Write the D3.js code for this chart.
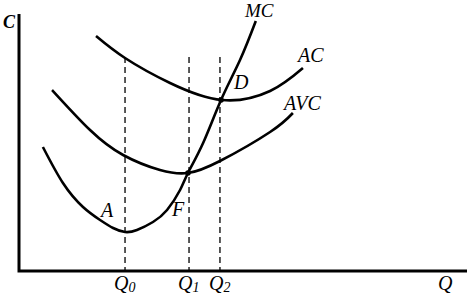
<!DOCTYPE html>
<html>
<head>
<meta charset="utf-8">
<script src="https://cdn.jsdelivr.net/npm/d3@7"></script>
<style>
  html, body { margin: 0; padding: 0; background: #fff; }
  svg { display: block; }
  text { font-family: "Liberation Serif", "DejaVu Serif", serif; font-style: italic; fill: #000; }
</style>
</head>
<body>
<div id="chart"></div>
<script>
// Curves as [Q, C] pairs
const mcPoints = [[1.12, 12.4], [2.06, 8.8], [3.0, 6.4], [3.8, 5.1], [4.41, 4.3], [4.97, 3.9],
  [5.53, 4.1], [6.28, 4.9], [6.94, 6.1], [7.55, 8.1], [7.92, 9.8], [8.63, 12.8],
  [9.47, 17.1], [10.36, 21.1], [11.1, 25.0]];
const avcPoints = [[1.55, 18.1], [3.33, 14.1], [4.88, 11.6], [6.61, 10.1], [7.92, 9.8],
  [9.42, 11.0], [11.77, 13.9], [12.84, 15.8]];
const acPoints = [[3.61, 23.5], [4.97, 21.3], [7.08, 18.8], [9.52, 17.1],
  [11.77, 18.0], [13.31, 20.3]];

// Output levels with dashed guides
const qMarks = [{ name: 'Q', sub: '0', q: 4.97 }, { name: 'Q', sub: '1', q: 7.97 }, { name: 'Q', sub: '2', q: 9.42 }];
const dashTop = 21.4;

// Points on the curves
const dots = [[7.92, 9.8], [9.47, 17.1]];

const width = 467;
const height = 297;

const x = d3.scaleLinear().domain([0, 21]).range([19, 467]);
const y = d3.scaleLinear().domain([0, 27]).range([271, 1]);

const svg = d3.select('#chart')
  .append('svg')
  .attr('width', width)
  .attr('height', height);

// Axes
svg.append('path')
  .attr('d', `M${x(0)},${y(25.7)}V${y(0)}H${x(21)}`)
  .attr('fill', 'none')
  .attr('stroke', '#000')
  .attr('stroke-width', 3);

// Dashed guides
svg.append('g')
  .selectAll('line')
  .data(qMarks)
  .join('line')
  .attr('x1', d => x(d.q))
  .attr('x2', d => x(d.q))
  .attr('y1', y(dashTop))
  .attr('y2', y(0))
  .attr('stroke', '#000')
  .attr('stroke-width', 1.3)
  .attr('stroke-dasharray', '6,4');

const line = d3.line()
  .x(d => x(d[0]))
  .y(d => y(d[1]))
  .curve(d3.curveNatural);

svg.append('g')
  .selectAll('path')
  .data([mcPoints, avcPoints, acPoints])
  .join('path')
  .attr('d', line)
  .attr('fill', 'none')
  .attr('stroke', '#000')
  .attr('stroke-width', 2.6);

svg.append('g')
  .selectAll('circle')
  .data(dots)
  .join('circle')
  .attr('cx', d => x(d[0]))
  .attr('cy', d => y(d[1]))
  .attr('r', 2.8)
  .attr('fill', '#000');

// Curve and point labels
const labels = [
  { t: 'MC', x: 245, y: 17, s: 19 },
  { t: 'AC', x: 298, y: 62, s: 20 },
  { t: 'D', x: 234, y: 89, s: 20 },
  { t: 'AVC', x: 284, y: 110, s: 20 },
  { t: 'A', x: 101, y: 217, s: 20 },
  { t: 'F', x: 172, y: 216, s: 20 }
];

svg.append('g')
  .selectAll('text')
  .data(labels)
  .join('text')
  .attr('x', d => d.x)
  .attr('y', d => d.y)
  .attr('font-size', d => d.s)
  .text(d => d.t);

svg.append('text')
  .attr('x', 3)
  .attr('y', 28)
  .attr('font-size', 18)
  .attr('font-weight', 'bold')
  .text('C');

svg.append('text')
  .attr('x', 438)
  .attr('y', 290)
  .attr('font-size', 20)
  .text('Q');

const qLab = svg.append('g')
  .selectAll('text')
  .data(qMarks)
  .join('text')
  .attr('x', d => x(d.q) - 11)
  .attr('y', 290)
  .attr('font-size', 20);

qLab.append('tspan').text(d => d.name);
qLab.append('tspan')
  .attr('font-size', 14)
  .attr('dy', 2)
  .text(d => d.sub);
</script>
</body>
</html>
